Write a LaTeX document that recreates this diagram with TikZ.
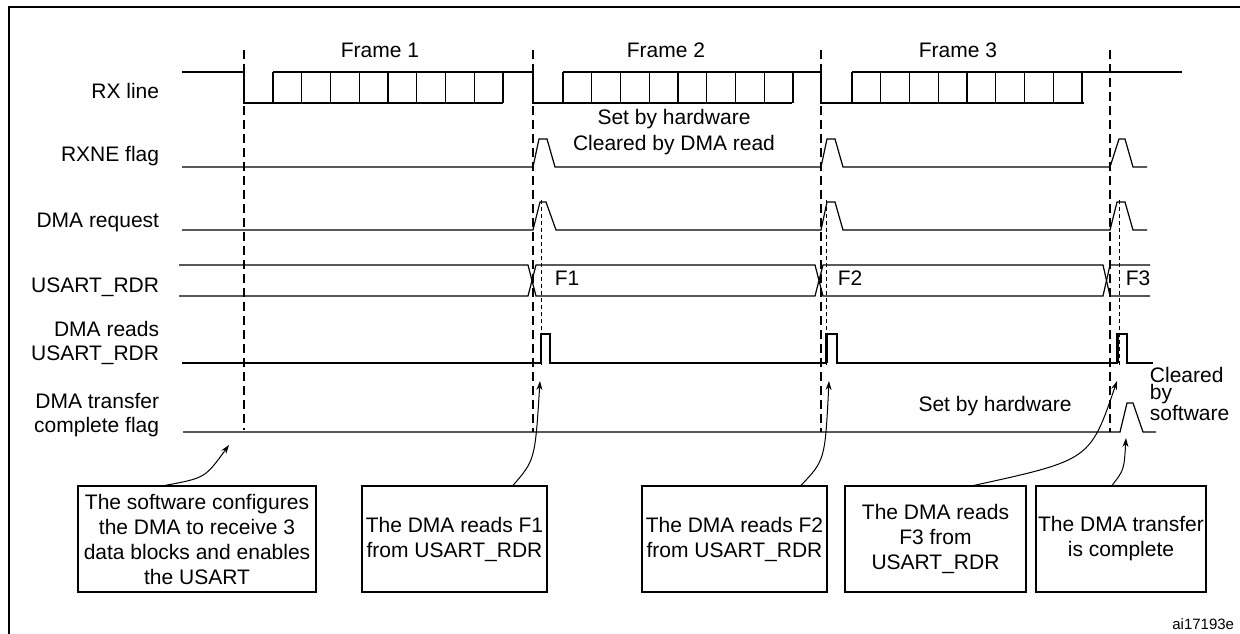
\documentclass[tikz,border=0pt]{standalone}
\usepackage{fontspec}
\setmainfont{Liberation Sans}
\usetikzlibrary{arrows.meta}
\begin{document}
\begin{tikzpicture}[x=1pt,y=-1pt,line width=1.2pt,
  lbl/.style={anchor=east,font=\fontsize{21}{24}\selectfont,align=right},
  txt/.style={font=\fontsize{21}{24}\selectfont},
  dash1/.style={dash pattern=on 9pt off 5pt,line width=1.1pt},
  dot1/.style={dash pattern=on 4pt off 3pt,line width=1pt},
  box/.style={draw,line width=1.2pt,align=center,font=\fontsize{21}{25}\selectfont,inner sep=1pt},
  arr/.style={-{Stealth[length=9pt,width=6pt]},line width=1pt}]
\useasboundingbox (0,0) rectangle (1240,634);
\draw (9,640) -- (9,7) -- (1250,7);
% labels
\node[lbl] (lrx) at (163,91) {RX line};
\node[lbl] (lrxne) at (163,156) {RXNE flag};
\node[lbl] (ldmar) at (163,222) {DMA request};
\node[lbl] (lrdr) at (163,287) {USART\_RDR};
\node[lbl] (lrd) at (163,343) {DMA reads\\USART\_RDR};
\node[lbl] (ltc) at (163,415) {DMA transfer\\complete flag};
\node[txt] (f1) at (380,50) {Frame 1};
\node[txt] (f2) at (666,50) {Frame 2};
\node[txt] (f3) at (958,50) {Frame 3};
% dashed lines
\draw[dash1] (244,50) -- (244,430);
\draw[dash1] (533,50) -- (533,432);
\draw[dash1] (821,50) -- (821,432);
\draw[dash1] (1110,50) -- (1110,432);
\draw[dot1] (541,200) -- (541,365);
\draw[dot1] (826,200) -- (826,365);
\draw[dot1] (1119,200) -- (1119,365);
% RX line
\draw (182,72) -- (244,72) -- (244,103) -- (503,103);
\draw (273,72) -- (533,72) -- (533,103) -- (792,103);
\draw (563,72) -- (821,72) -- (821,103) -- (1084,103);
\draw (852,72) -- (1182,72);
\foreach \s in {273,563,852}{
  \foreach \i in {0,...,8}{\draw (\s+\i*28.75,72) -- (\s+\i*28.75,103);}}
% RXNE
\draw (182,167) -- (533,167) -- (539,139) -- (547,139) -- (555,167) -- (821,167) -- (827,139) -- (835,139) -- (843,167) -- (1110,167) -- (1119,139) -- (1125,139) -- (1133,167) -- (1147,167);
\node[txt,align=center,font=\fontsize{21}{26}\selectfont] (sbh) at (674,132) {Set by hardware\\Cleared by DMA read};
% DMA request
\draw (182,230) -- (533,230) -- (540,202) -- (546,202) -- (556,230) -- (821,230) -- (827,202) -- (835,202) -- (843,230) -- (1110,230) -- (1117,202) -- (1125,202) -- (1133,230) -- (1147,230);
% USART_RDR
\draw (179,265) -- (528,265) -- (536,296) -- (815,296) -- (823,265) -- (1103,265) -- (1110,296) -- (1150,296);
\draw (179,296) -- (528,296) -- (536,265) -- (815,265) -- (823,296) -- (1103,296) -- (1110,265) -- (1150,265);
\node[txt] (tf1) at (567,278) {F1};
\node[txt] (tf2) at (850,278) {F2};
\node[txt] (tf3) at (1138,278) {F3};
% DMA reads
\draw (182,363) -- (541,363) -- (541,334) -- (550,334) -- (550,363) -- (826,363) -- (826,334) -- (837,334) -- (837,363) -- (1117,363) -- (1117,334) -- (1127,334) -- (1127,363) -- (1153,363);
\draw[line width=2.2pt] (827,363) -- (827,334);
\draw[line width=2.2pt] (1118,363) -- (1118,334);
% transfer complete
\draw (183,432) -- (1120,432) -- (1127,403) -- (1133,403) -- (1143,432) -- (1156,432);
\node[txt] (sbh2) at (995,406) {Set by hardware};
\node[txt,align=left,anchor=west,font=\fontsize{21}{17}\selectfont] (cbs) at (1146,394) {Cleared\\by\\software};
% boxes
\node[box,minimum width=238pt,minimum height=106pt] (b1) at (197,539) {The software configures\\the DMA to receive 3\\data blocks and enables\\the USART};
\node[box,minimum width=185pt,minimum height=106pt] (b2) at (454.5,539) {The DMA reads F1\\from USART\_RDR};
\node[box,minimum width=185pt,minimum height=106pt] (b3) at (734.5,539) {The DMA reads F2\\from USART\_RDR};
\node[box,minimum width=181pt,minimum height=106pt] (b4) at (935.5,539) {The DMA reads\\F3 from\\USART\_RDR};
\node[box,minimum width=170pt,minimum height=106pt] (b5) at (1121,539) {The DMA transfer\\is complete};
\coordinate (t1) at (229,445);
\coordinate (t2) at (540,381);
\coordinate (t3) at (829,381);
\coordinate (t4) at (1117,381);
\coordinate (t5) at (1126,438);
\draw[arr] (b1.north -| 165,0) .. controls (205,478) .. (t1);
\draw[arr] (b2.north -| 513,0) .. controls (535,460) .. (t2);
\draw[arr] (b3.north -| 801,0) .. controls (825,460) .. (t3);
\draw[arr] (b4.north -| 974,0) .. controls (1090,460) .. (t4);
\draw[arr] (b5.north -| 1112,0) .. controls (1124,470) .. (t5);
\node[font=\fontsize{15}{17}\selectfont,anchor=east] (id) at (1238,624) {ai17193e};
\end{tikzpicture}
\end{document}
